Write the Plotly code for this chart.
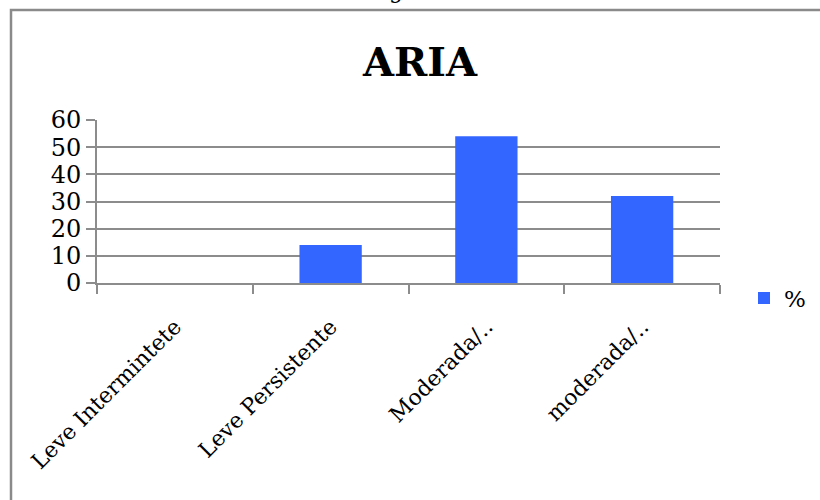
import plotly.graph_objects as go

# ARIA classification, share of patients (%)
categories = ["Leve Intermintete", "Leve Persistente", "Moderada/..", "moderada/.."]
percent = [0, 14, 54, 32]
y_ticks = [0, 10, 20, 30, 40, 50, 60]
series_name = "%"

W, H = 820, 500
L, R, T, B = 97, 100, 120, 217
pw, ph = W - L - R, H - T - B


def px_x(x):
    return (x - L) / pw


def px_y(y):
    return (H - B - y) / ph


grid = "#8c8c8c"
serif = "DejaVu Serif"

fig = go.Figure(
    go.Bar(
        x=categories,
        y=percent,
        name=series_name,
        width=0.4,
        marker=dict(color="#3366ff", line=dict(width=0)),
        showlegend=True,
    )
)

fig.update_layout(
    width=W,
    height=H,
    margin=dict(l=L, r=R, t=T, b=B, autoexpand=False),
    paper_bgcolor="white",
    plot_bgcolor="white",
    font=dict(family=serif, color="black"),
    title=dict(
        text="<b>ARIA</b>",
        font=dict(family=serif, size=40, color="black"),
        x=px_x(420),
        xanchor="center",
        xref="paper",
        y=1 - 62 / H,
        yanchor="middle",
        yref="container",
    ),
    showlegend=True,
    legend=dict(
        x=px_x(744),
        xanchor="left",
        y=px_y(298),
        yanchor="middle",
        font=dict(family=serif, size=23, color="black"),
        bgcolor="rgba(0,0,0,0)",
        itemwidth=30,
    ),
    bargap=0.6,
)

fig.update_xaxes(
    type="category",
    categoryorder="array",
    categoryarray=categories,
    showline=True,
    linecolor=grid,
    linewidth=2,
    ticks="outside",
    tickson="boundaries",
    ticklen=9,
    tickwidth=2,
    tickcolor=grid,
    tickangle=-45,
    ticklabelstandoff=20,
    tickfont=dict(family=serif, size=22, color="black"),
    showgrid=False,
)

fig.update_yaxes(
    range=[0, 60],
    tickvals=y_ticks,
    showline=True,
    linecolor=grid,
    linewidth=2,
    ticks="outside",
    ticklen=9,
    tickwidth=2,
    tickcolor=grid,
    showgrid=True,
    gridcolor=grid,
    gridwidth=2,
    zeroline=False,
    tickfont=dict(family=serif, size=24, color="black"),
)

# chart frame (right and bottom edges run past the page)
fig.add_shape(
    type="rect",
    xref="paper",
    yref="paper",
    x0=px_x(11),
    x1=px_x(840),
    y0=px_y(530),
    y1=px_y(10),
    line=dict(color="#8a8a8a", width=2.5),
    fillcolor="rgba(0,0,0,0)",
    layer="below",
)

# caption text from the page above the frame, mostly cut off
fig.add_annotation(
    text="g",
    xref="paper",
    yref="paper",
    x=px_x(396),
    y=px_y(-9),
    xanchor="center",
    yanchor="middle",
    showarrow=False,
    font=dict(family=serif, size=22, color="black"),
)

fig.write_html("out.html")
